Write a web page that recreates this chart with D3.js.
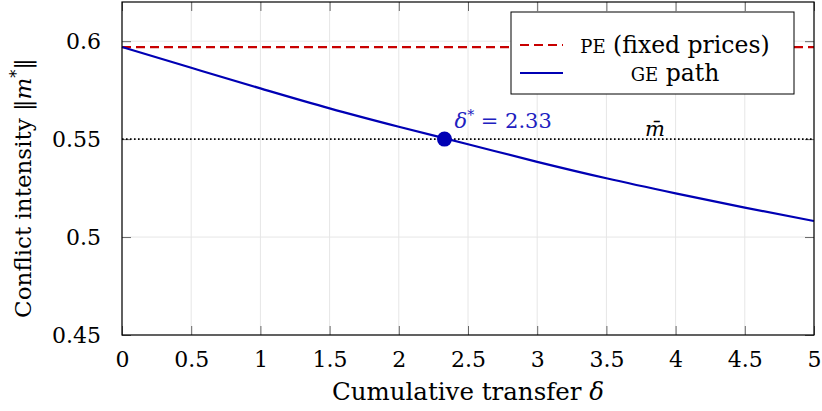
<!DOCTYPE html>
<html>
<head>
<meta charset="utf-8">
<script src="https://cdn.jsdelivr.net/npm/d3@7"></script>
<style>
  body { margin: 0; background: #fff; }
</style>
</head>
<body>
<div class="chart"></div>
<script>
// data
var delta = [0, 0.5, 1, 1.5, 2, 2.5, 3, 3.5, 4, 4.5, 5];
var gePath = [0.597, 0.5864, 0.5759, 0.5657, 0.5563, 0.5474, 0.5384, 0.5300, 0.5223, 0.5150, 0.5082];
var pePrice = 0.597;
var mBar = 0.55;
var deltaStar = 2.33;
var xTicks = [0, 0.5, 1, 1.5, 2, 2.5, 3, 3.5, 4, 4.5, 5];
var yTicks = [0.45, 0.5, 0.55, 0.6];

var serif = "'DejaVu Serif', 'Liberation Serif', serif";

var svgWidth = 822, svgHeight = 411;
var margin = { top: 2, right: 8, bottom: 76, left: 122 };
var width = svgWidth - margin.left - margin.right;
var height = svgHeight - margin.top - margin.bottom;

var svg = d3.select(".chart").append("svg")
  .attr("width", svgWidth)
  .attr("height", svgHeight)
  .style("font-family", serif);

var chartGroup = svg.append("g")
  .attr("transform", `translate(${margin.left}, ${margin.top})`);

var xScale = d3.scaleLinear().domain([0, 5]).range([0, width]);
var yScale = d3.scaleLinear().domain([0.45, 0.62]).range([height, 0]);

// grid
chartGroup.selectAll(".vgrid").data(xTicks).enter().append("line")
  .attr("x1", d => xScale(d)).attr("x2", d => xScale(d))
  .attr("y1", 0).attr("y2", height)
  .attr("stroke", "#e6e6e6").attr("stroke-width", 1);
chartGroup.selectAll(".hgrid").data(yTicks).enter().append("line")
  .attr("x1", 0).attr("x2", width)
  .attr("y1", d => yScale(d)).attr("y2", d => yScale(d))
  .attr("stroke", "#e6e6e6").attr("stroke-width", 1);

// axes with inner ticks
var tickLen = 9;
var xAxisB = chartGroup.append("g")
  .attr("transform", `translate(0, ${height})`)
  .call(d3.axisBottom(xScale).tickValues(xTicks).tickSizeInner(-tickLen).tickSizeOuter(0)
    .tickPadding(tickLen + 7).tickFormat(d3.format("")));
var xAxisT = chartGroup.append("g")
  .call(d3.axisTop(xScale).tickValues(xTicks).tickSizeInner(-tickLen).tickSizeOuter(0).tickFormat(""));
var yAxisL = chartGroup.append("g")
  .call(d3.axisLeft(yScale).tickValues(yTicks).tickSizeInner(-tickLen).tickSizeOuter(0)
    .tickPadding(tickLen + 12).tickFormat(d3.format("")));
var yAxisR = chartGroup.append("g")
  .attr("transform", `translate(${width}, 0)`)
  .call(d3.axisRight(yScale).tickValues(yTicks).tickSizeInner(-tickLen).tickSizeOuter(0).tickFormat(""));

[xAxisB, xAxisT, yAxisL, yAxisR].forEach(function(a) {
  a.attr("font-family", null);
  a.select(".domain").remove();
  a.selectAll(".tick line").attr("stroke", "#666").attr("stroke-width", 1);
  a.selectAll(".tick text").style("font-family", serif).style("font-size", "22px").attr("fill", "#000");
});
yAxisL.selectAll(".tick text").attr("dy", "0.35em");

// PE line
chartGroup.append("line")
  .attr("x1", 0).attr("x2", width)
  .attr("y1", yScale(pePrice)).attr("y2", yScale(pePrice))
  .attr("stroke", "#c80000").attr("stroke-width", 2.2)
  .attr("stroke-dasharray", "9,5");

// m bar dotted line
chartGroup.append("line")
  .attr("x1", 0).attr("x2", width)
  .attr("y1", yScale(mBar)).attr("y2", yScale(mBar))
  .attr("stroke", "#000").attr("stroke-width", 1.6)
  .attr("stroke-dasharray", "1.6,2.4");

// GE path
var line = d3.line()
  .x((d, i) => xScale(delta[i]))
  .y(d => yScale(d))
  .curve(d3.curveMonotoneX);
chartGroup.append("path")
  .datum(gePath)
  .attr("d", line)
  .attr("fill", "none")
  .attr("stroke", "#0000b4")
  .attr("stroke-width", 2.2);

// delta star marker
chartGroup.append("circle")
  .attr("cx", xScale(deltaStar)).attr("cy", yScale(mBar))
  .attr("r", 7.5).attr("fill", "#0000b4");

var starLabel = chartGroup.append("text")
  .attr("x", xScale(deltaStar) + 10).attr("y", yScale(mBar) - 11)
  .style("font-family", serif).style("font-size", "21px").attr("fill", "#2020c0");
starLabel.append("tspan").style("font-style", "italic").text("δ");
starLabel.append("tspan").attr("dy", -8).style("font-size", "14px").text("*");
starLabel.append("tspan").attr("dy", 8).text(" = 2.33");

chartGroup.append("text")
  .attr("x", xScale(3.85)).attr("y", yScale(mBar) - 3)
  .attr("text-anchor", "middle")
  .style("font-family", serif).style("font-size", "21px").style("font-style", "italic")
  .text("m̄");

// frame
chartGroup.append("rect")
  .attr("width", width).attr("height", height)
  .attr("fill", "none").attr("stroke", "#000").attr("stroke-width", 1.2);

// legend
var legend = svg.append("g").attr("transform", "translate(511, 12)");
legend.append("rect")
  .attr("width", 283).attr("height", 82)
  .attr("fill", "#fff").attr("stroke", "#000").attr("stroke-width", 1);
legend.append("line")
  .attr("x1", 9).attr("x2", 52).attr("y1", 33).attr("y2", 33)
  .attr("stroke", "#c80000").attr("stroke-width", 2.2).attr("stroke-dasharray", "9,5");
legend.append("line")
  .attr("x1", 9).attr("x2", 52).attr("y1", 61).attr("y2", 61)
  .attr("stroke", "#0000b4").attr("stroke-width", 2.2);
var peText = legend.append("text")
  .attr("x", 164).attr("y", 33).attr("dy", "0.35em")
  .attr("text-anchor", "middle").style("font-family", serif).style("font-size", "23.5px");
peText.append("tspan").style("font-size", "18px").text("PE");
peText.append("tspan").text(" (fixed prices)");
var geText = legend.append("text")
  .attr("x", 164).attr("y", 61).attr("dy", "0.35em")
  .attr("text-anchor", "middle").style("font-family", serif).style("font-size", "23.5px");
geText.append("tspan").style("font-size", "18px").text("GE");
geText.append("tspan").text(" path");

// axis titles
svg.append("text")
  .attr("x", margin.left + width / 2).attr("y", 400)
  .attr("text-anchor", "middle").style("font-family", serif).style("font-size", "24.5px")
  .html("Cumulative transfer <tspan font-style='italic'>δ</tspan>");

var yTitle = svg.append("text")
  .attr("transform", "translate(31, 188) rotate(-90)")
  .attr("text-anchor", "middle").style("font-family", serif).style("font-size", "23px");
yTitle.append("tspan").text("Conflict intensity ‖");
yTitle.append("tspan").style("font-style", "italic").text("m");
yTitle.append("tspan").attr("dy", -9).style("font-size", "16px").text("*");
yTitle.append("tspan").attr("dy", 9).text("‖");
</script>
</body>
</html>
